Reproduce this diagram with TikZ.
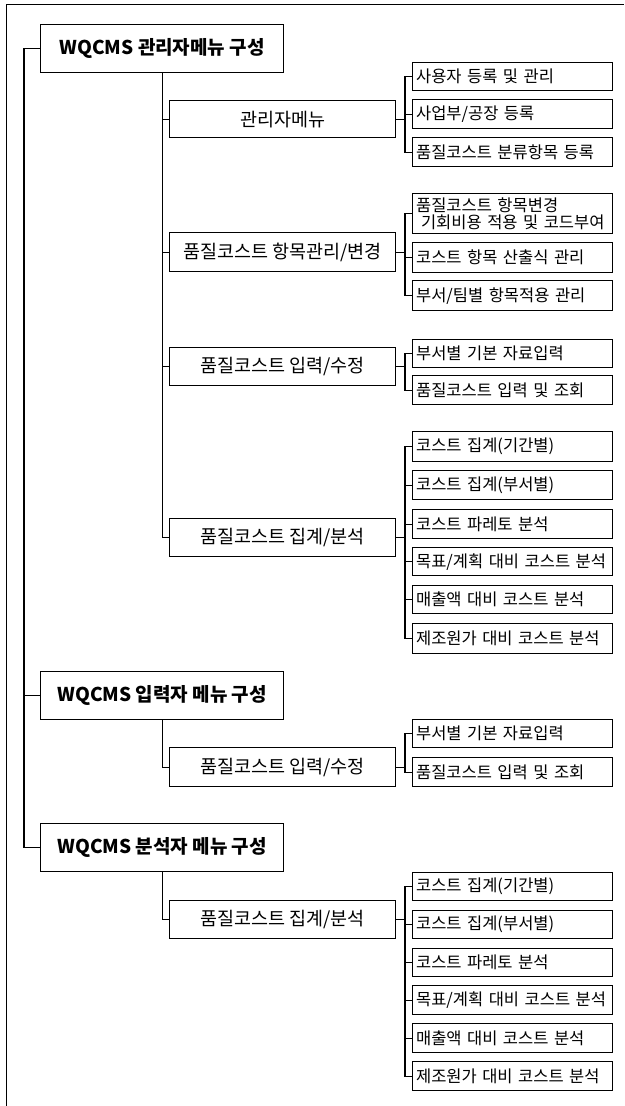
\documentclass[tikz,border=0pt]{standalone}
\usepackage{fontspec}
\setmainfont{Noto Sans CJK KR}
\begin{document}
\begin{tikzpicture}[x=1pt,y=-1pt,
  topbox/.style={draw, line width=1.2pt, anchor=north west, minimum width=243pt, minimum height=48pt, inner sep=0pt, font=\bfseries\fontsize{19}{22}\selectfont},
  midbox/.style={draw, line width=1.2pt, anchor=north west, minimum width=226pt, minimum height=38pt, inner sep=0pt, font=\fontsize{18.5}{21}\selectfont},
  leafbox/.style={draw, line width=1.2pt, anchor=north west, minimum height=29pt, text width=193pt, inner xsep=3.5pt, inner ysep=0pt, align=left, font=\fontsize{16.5}{17.5}\selectfont},
  conn/.style={line width=1.1pt}]
\useasboundingbox (0,0) rectangle (624,1106);
\draw[line width=1pt] (6,1106) -- (6,4) -- (624,4);

% top-level boxes
\node[topbox] (t1) at (40,24) {WQCMS 관리자메뉴 구성};
\node[topbox] (t2) at (40,671) {WQCMS 입력자 메뉴 구성};
\node[topbox] (t3) at (40,823) {WQCMS 분석자 메뉴 구성};

% mid boxes
\node[midbox, minimum height=37pt] (m1) at (169,100) {관리자메뉴};
\node[midbox, minimum height=39pt] (m2) at (169,232) {품질코스트 항목관리/변경};
\node[midbox] (m3) at (169,347) {품질코스트 입력/수정};
\node[midbox] (m4) at (169,518) {품질코스트 집계/분석};
\node[midbox, minimum height=39pt] (m5) at (169,747) {품질코스트 입력/수정};
\node[midbox] (m6) at (169,900) {품질코스트 집계/분석};

% leaves
\node[leafbox, minimum height=28pt] (l11) at (412,62) {사용자 등록 및 관리};
\node[leafbox] (l12) at (412,99) {사업부/공장 등록};
\node[leafbox] (l13) at (412,137) {품질코스트 분류항목 등록};

\node[leafbox, minimum height=40pt] (l21) at (412,193) {품질코스트 항목변경\\[-1pt]\hspace{0.3em}기회비용 적용 및 코드부여};
\node[leafbox, minimum height=30pt] (l22) at (412,242) {코스트 항목 산출식 관리};
\node[leafbox, minimum height=30pt] (l23) at (412,280) {부서/팀별 항목적용 관리};

\node[leafbox, minimum height=28pt] (l31) at (412,339) {부서별 기본 자료입력};
\node[leafbox] (l32) at (412,375) {품질코스트 입력 및 조회};

\node[leafbox, minimum height=30pt] (l41) at (412,431) {코스트 집계(기간별)};
\node[leafbox] (l42) at (412,470) {코스트 집계(부서별)};
\node[leafbox] (l43) at (412,509) {코스트 파레토 분석};
\node[leafbox, minimum height=28pt] (l44) at (412,547) {목표/계획 대비 코스트 분석};
\node[leafbox, minimum height=28pt] (l45) at (412,585) {매출액 대비 코스트 분석};
\node[leafbox, minimum height=30pt] (l46) at (412,623) {제조원가 대비 코스트 분석};

\node[leafbox, minimum height=28pt] (l51) at (412,719) {부서별 기본 자료입력};
\node[leafbox] (l52) at (412,757) {품질코스트 입력 및 조회};

\node[leafbox, minimum height=28pt] (l61) at (412,872) {코스트 집계(기간별)};
\node[leafbox, minimum height=28pt] (l62) at (412,910) {코스트 집계(부서별)};
\node[leafbox, minimum height=28pt] (l63) at (412,948) {코스트 파레토 분석};
\node[leafbox] (l64) at (412,985) {목표/계획 대비 코스트 분석};
\node[leafbox] (l65) at (412,1023) {매출액 대비 코스트 분석};
\node[leafbox] (l66) at (412,1061) {제조원가 대비 코스트 분석};

% spine
\draw[conn] (t1.west) -- ++(-16,0) |- (t3.west);
\draw[conn] (t2.west) -- ++(-16,0);

% trunks to mid boxes
\draw[conn] (t1.south) |- (m4.west);
\draw[conn] (m1.west) -- (m1.west -| t1.south);
\draw[conn] (m2.west) -- (m2.west -| t1.south);
\draw[conn] (m3.west) -- (m3.west -| t1.south);
\draw[conn] (t2.south) |- (m5.west);
\draw[conn] (t3.south) |- (m6.west);

% leaf groups
\draw[conn] (m1.east) -- ++(10,0);
\draw[conn] (l11.west) -- ++(-7,0) |- (l13.west);
\draw[conn] (l12.west) -- ++(-7,0);

\draw[conn] (m2.east) -- ++(10,0);
\draw[conn] (l21.west) -- ++(-7,0) |- (l23.west);
\draw[conn] (l22.west) -- ++(-7,0);

\draw[conn] (m3.east) -- ++(10,0);
\draw[conn] (l31.west) -- ++(-7,0) |- (l32.west);

\draw[conn] (m4.east) -- ++(10,0);
\draw[conn] (l41.west) -- ++(-7,0) |- (l46.west);
\foreach \n in {l42,l43,l44,l45} \draw[conn] (\n.west) -- ++(-7,0);

\draw[conn] (m5.east) -- ++(10,0);
\draw[conn] (l51.west) -- ++(-7,0) |- (l52.west);

\draw[conn] (m6.east) -- ++(10,0);
\draw[conn] (l61.west) -- ++(-7,0) |- (l66.west);
\foreach \n in {l62,l63,l64,l65} \draw[conn] (\n.west) -- ++(-7,0);
\end{tikzpicture}
\end{document}
